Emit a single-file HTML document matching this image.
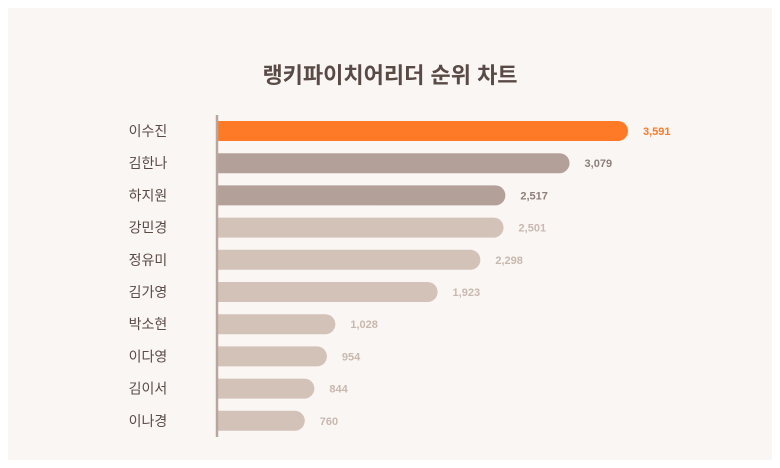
<!DOCTYPE html>
<html><head><meta charset="utf-8"><style>
body{margin:0;background:#fff;}
svg{display:block;font-family:"Liberation Sans","Noto Sans CJK KR",sans-serif;}
</style></head><body>
<svg id="c" width="780" height="468">
<rect x="8" y="8" width="764" height="452" fill="#faf6f4"/>
<text x="390" y="83" text-anchor="middle" font-size="22" font-weight="bold" fill="#5a4a45">랭키파이치어리더 순위 차트</text>
<g id="bars"></g>
<line x1="217" y1="115" x2="217" y2="437" stroke="#b8a59c" stroke-width="2.5"/>
</svg>
<script>
const categories=["이수진","김한나","하지원","강민경","정유미","김가영","박소현","이다영","김이서","이나경"];
const values=[3591,3079,2517,2501,2298,1923,1028,954,844,760];
const valueLabels=["3,591","3,079","2,517","2,501","2,298","1,923","1,028","954","844","760"];
const x0=218, scale=410/3591, y0=131, step=32.2, h=20;
const xS=v=>v*scale, yS=i=>y0+i*step;
const g=document.getElementById('bars'), NS="http://www.w3.org/2000/svg";
categories.forEach((c,i)=>{
  const w=xS(values[i]), cy=yS(i);
  const fill=i===0?"#ff7a26":(i<3?"#b3a199":"#d3c2b8");
  const lc=i===0?"#ff7a26":(i<3?"#8d7f79":"#c9b8ae");
  const p=document.createElementNS(NS,'path');
  const r=h/2, x=x0, y=cy-r;
  p.setAttribute('d',`M${x},${y}H${x+w-r}A${r},${r} 0 0 1 ${x+w-r},${y+h}H${x}Z`);
  p.setAttribute('fill',fill);
  
  
  g.appendChild(p);
  const t=document.createElementNS(NS,'text');
  t.setAttribute('x',148);t.setAttribute('y',cy+5);t.setAttribute('text-anchor','middle');
  t.setAttribute('font-size','14');t.setAttribute('fill','#5a4a45');t.textContent=c;
  
  
  g.appendChild(t);
  const v=document.createElementNS(NS,'text');
  v.setAttribute('x',x0+w+15);v.setAttribute('y',cy+4);
  v.setAttribute('font-size','11');v.setAttribute('font-weight','bold');v.setAttribute('fill',lc);
  v.textContent=valueLabels[i];
  
  
  g.appendChild(v);
});
</script>
</body></html>
